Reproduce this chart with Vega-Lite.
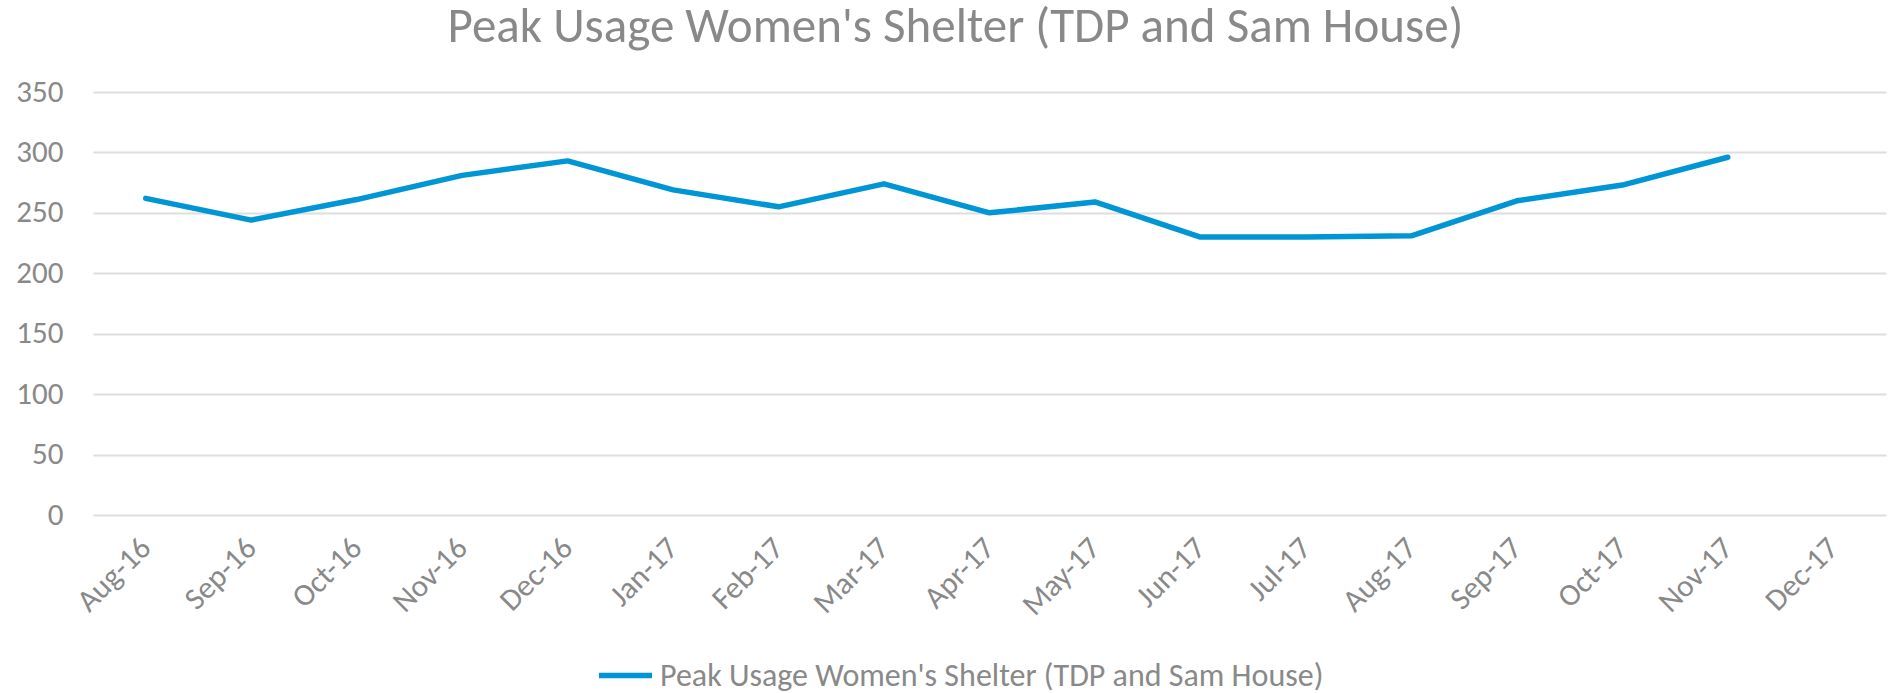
{
  "$schema": "https://vega.github.io/schema/vega-lite/v6.json",
  "width": 1793,
  "height": 423,
  "autosize": {"type": "none"},
  "padding": {"left": 93, "top": 92, "right": 4, "bottom": 178},
  "background": "white",
  "title": {
    "text": "Peak Usage Women's Shelter (TDP and Sam House)",
    "font": "Carlito, Lato, sans-serif",
    "fontSize": 49,
    "fontWeight": "normal",
    "color": "#898989",
    "anchor": "middle",
    "offset": 24,
    "dx": -34
  },
  "data": {
    "values": [
      {"month": "Aug-16", "value": 262, "series": "Peak Usage Women's Shelter (TDP and Sam House)"},
      {"month": "Sep-16", "value": 244, "series": "Peak Usage Women's Shelter (TDP and Sam House)"},
      {"month": "Oct-16", "value": 261, "series": "Peak Usage Women's Shelter (TDP and Sam House)"},
      {"month": "Nov-16", "value": 281, "series": "Peak Usage Women's Shelter (TDP and Sam House)"},
      {"month": "Dec-16", "value": 293, "series": "Peak Usage Women's Shelter (TDP and Sam House)"},
      {"month": "Jan-17", "value": 269, "series": "Peak Usage Women's Shelter (TDP and Sam House)"},
      {"month": "Feb-17", "value": 255, "series": "Peak Usage Women's Shelter (TDP and Sam House)"},
      {"month": "Mar-17", "value": 274, "series": "Peak Usage Women's Shelter (TDP and Sam House)"},
      {"month": "Apr-17", "value": 250, "series": "Peak Usage Women's Shelter (TDP and Sam House)"},
      {"month": "May-17", "value": 259, "series": "Peak Usage Women's Shelter (TDP and Sam House)"},
      {"month": "Jun-17", "value": 230, "series": "Peak Usage Women's Shelter (TDP and Sam House)"},
      {"month": "Jul-17", "value": 230, "series": "Peak Usage Women's Shelter (TDP and Sam House)"},
      {"month": "Aug-17", "value": 231, "series": "Peak Usage Women's Shelter (TDP and Sam House)"},
      {"month": "Sep-17", "value": 260, "series": "Peak Usage Women's Shelter (TDP and Sam House)"},
      {"month": "Oct-17", "value": 273, "series": "Peak Usage Women's Shelter (TDP and Sam House)"},
      {"month": "Nov-17", "value": 296, "series": "Peak Usage Women's Shelter (TDP and Sam House)"}
    ]
  },
  "mark": {"type": "line", "strokeWidth": 5.5, "strokeCap": "round", "strokeJoin": "round"},
  "encoding": {
    "x": {
      "field": "month",
      "type": "ordinal",
      "sort": null,
      "scale": {
        "type": "point",
        "padding": 0.5,
        "domain": ["Aug-16","Sep-16","Oct-16","Nov-16","Dec-16","Jan-17","Feb-17","Mar-17","Apr-17","May-17","Jun-17","Jul-17","Aug-17","Sep-17","Oct-17","Nov-17","Dec-17"]
      },
      "axis": {
        "title": null,
        "domain": false,
        "ticks": false,
        "grid": false,
        "labelAngle": -45,
        "labelAlign": "right",
        "labelBaseline": "middle",
        "labelPadding": 28,
        "labelFont": "Carlito, Lato, sans-serif",
        "labelFontSize": 31,
        "labelColor": "#898989"
      }
    },
    "y": {
      "field": "value",
      "type": "quantitative",
      "scale": {"domain": [0, 350], "nice": false},
      "axis": {
        "title": null,
        "values": [0, 50, 100, 150, 200, 250, 300, 350],
        "domain": false,
        "ticks": false,
        "gridColor": "#dedede",
        "gridWidth": 2,
        "labelPadding": 30,
        "labelFont": "Carlito, Lato, sans-serif",
        "labelFontSize": 31,
        "labelColor": "#898989"
      }
    },
    "color": {
      "field": "series",
      "type": "nominal",
      "scale": {"range": ["#0096d6"]},
      "legend": {
        "title": null,
        "orient": "none",
        "legendX": 503,
        "legendY": 554,
        "symbolType": "stroke",
        "symbolSize": 2809,
        "symbolStrokeWidth": 5.5,
        "labelOffset": 5,
        "labelFont": "Carlito, Lato, sans-serif",
        "labelFontSize": 32,
        "labelColor": "#898989",
        "labelLimit": 1000
      }
    }
  },
  "config": {"view": {"stroke": null}}
}
